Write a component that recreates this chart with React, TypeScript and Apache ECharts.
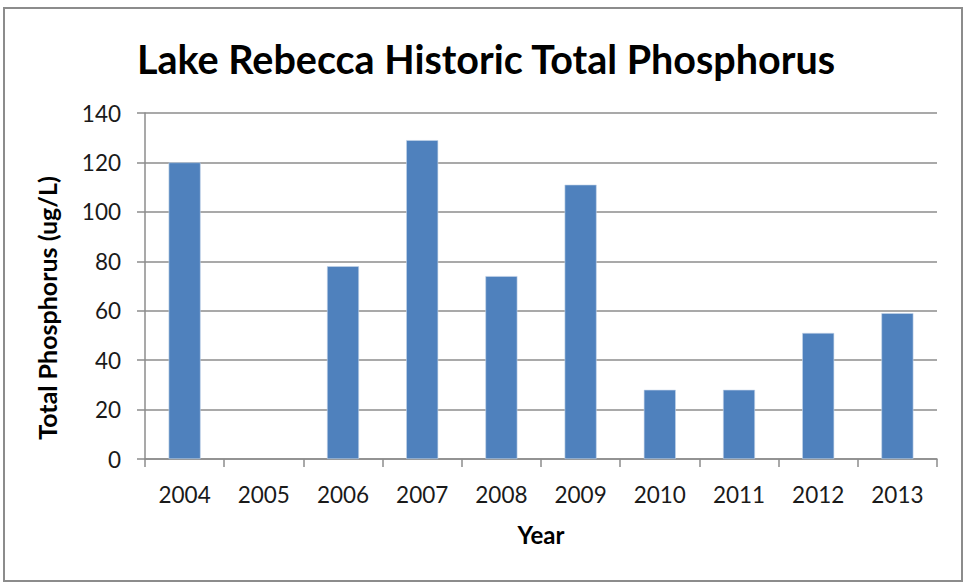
import React, { useEffect, useRef } from "react";
import * as echarts from "echarts";

const years = ["2004", "2005", "2006", "2007", "2008", "2009", "2010", "2011", "2012", "2013"];
const phosphorus: (number | null)[] = [120, null, 78, 129, 74, 111, 28, 28, 51, 59];
const yTicks = { min: 0, max: 140, interval: 20 };
const titleText = "Lake Rebecca Historic Total Phosphorus";
const xAxisTitle = "Year";
const yAxisTitle = "Total Phosphorus (ug/L)";

const FONT = "Lato, 'Open Sans', sans-serif";

export default function App() {
  const ref = useRef<HTMLDivElement>(null);
  useEffect(() => {
    if (!ref.current) return;
    const chart = echarts.init(ref.current, undefined, { renderer: "svg" });
    chart.setOption({
      animation: false,
      backgroundColor: "#ffffff",
      title: {
        text: titleText,
        left: 481,
        top: 33,
        textAlign: "center",
        textStyle: { fontFamily: FONT, fontWeight: "bold", fontSize: 39.5, color: "#000" },
      },
      grid: { left: 145, right: 29, top: 113, bottom: 124, containLabel: false },
      xAxis: {
        type: "category",
        data: years,
        boundaryGap: true,
        axisLine: { lineStyle: { color: "#8c8c8c", width: 1.5 } },
        axisTick: { show: true, alignWithLabel: false, length: 8, lineStyle: { color: "#8c8c8c", width: 1.5 } },
        axisLabel: { fontFamily: FONT, fontSize: 22.5, color: "#1a1a1a", margin: 24 },
        splitLine: { show: false },
      },
      yAxis: {
        type: "value",
        min: yTicks.min,
        max: yTicks.max,
        interval: yTicks.interval,
        axisLine: { show: true, lineStyle: { color: "#8c8c8c", width: 1.5 } },
        axisTick: { show: true, length: 8, lineStyle: { color: "#8c8c8c", width: 1.5 } },
        axisLabel: { fontFamily: FONT, fontSize: 22.5, color: "#1a1a1a", margin: 24 },
        splitLine: { show: true, lineStyle: { color: "#8c8c8c", width: 1.5 } },
      },
      series: [
        {
          type: "bar",
          data: phosphorus,
          barWidth: 32,
          itemStyle: { color: "#4f81bd", borderColor: "#c6d5ea", borderWidth: 0.6 },
        },
      ],
      graphic: [
        {
          type: "rect",
          shape: { x: 4, y: 8, width: 958, height: 573 },
          style: { fill: "none", stroke: "#8c8c8c", lineWidth: 2 },
          silent: true,
        },
        {
          type: "text",
          x: 541,
          y: 534,
          style: {
            text: xAxisTitle,
            fontFamily: FONT,
            fontWeight: "bold",
            fontSize: 24,
            fill: "#000",
            textAlign: "center",
            textVerticalAlign: "middle",
          },
        },
        {
          type: "text",
          x: 47,
          y: 308,
          rotation: Math.PI / 2,
          style: {
            text: yAxisTitle,
            fontFamily: FONT,
            fontWeight: "bold",
            fontSize: 25,
            fill: "#000",
            textAlign: "center",
            textVerticalAlign: "middle",
          },
        },
      ],
    });
    return () => chart.dispose();
  }, []);
  return (
    <div
      ref={ref}
      style={{ position: "absolute", left: 0, top: 0, width: 966, height: 583 }}
    />
  );
}
